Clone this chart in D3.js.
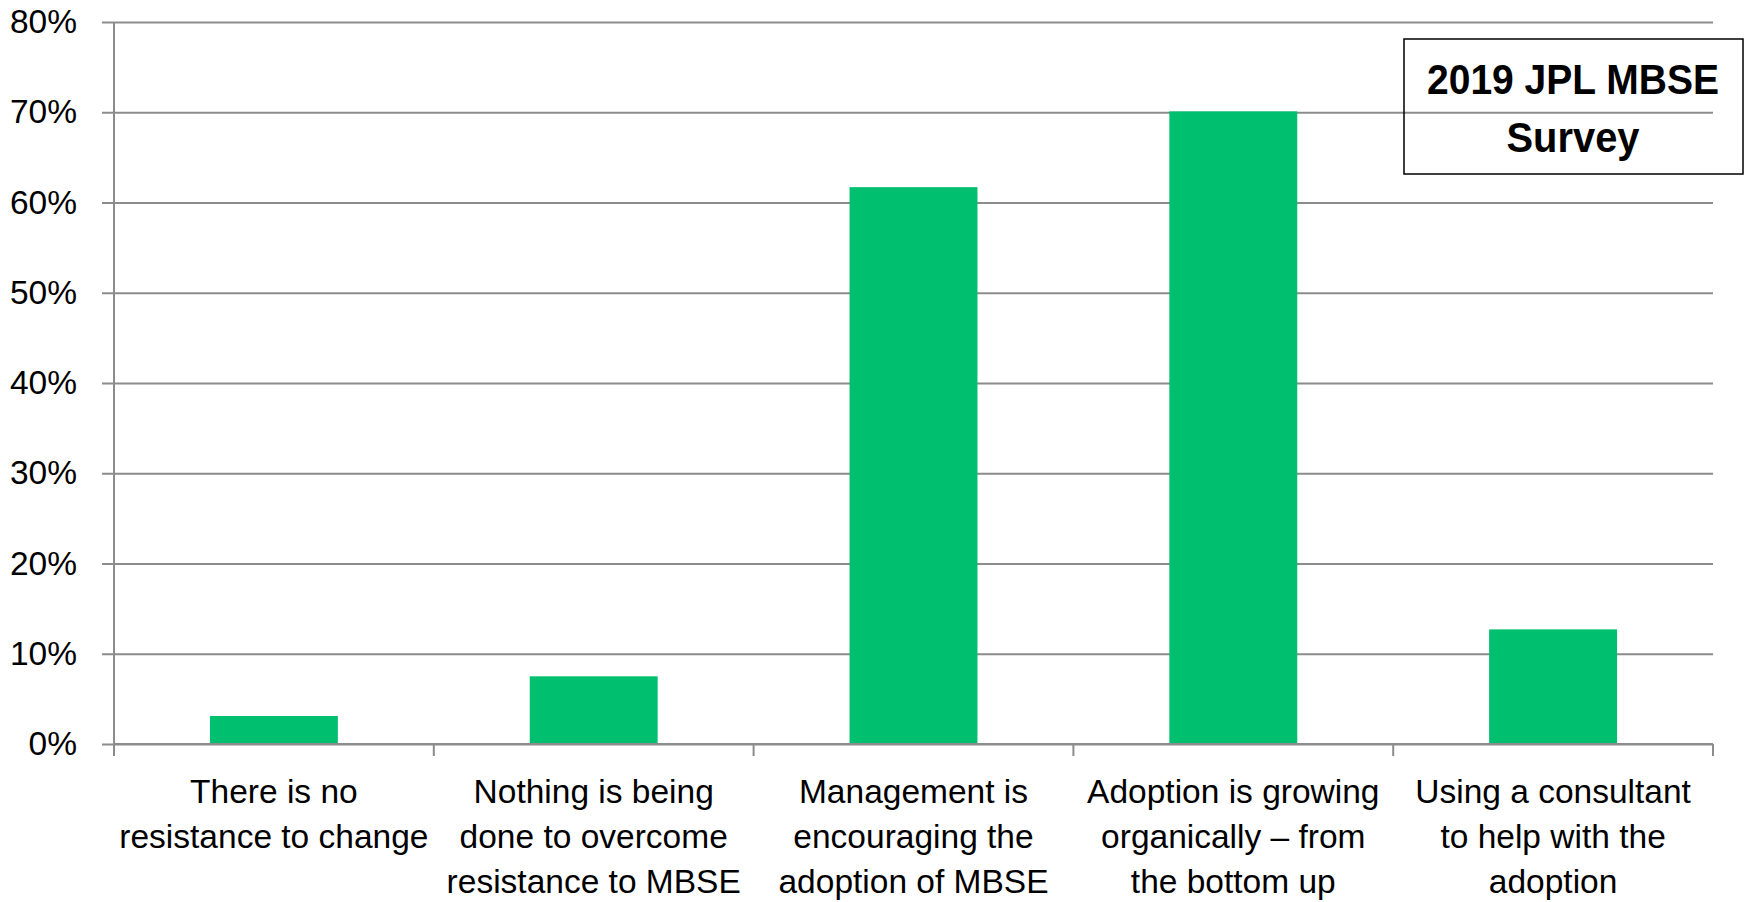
<!DOCTYPE html>
<html>
<head>
<meta charset="utf-8">
<script src="https://cdn.jsdelivr.net/npm/d3@7/dist/d3.min.js"></script>
<style>
  html, body { margin: 0; padding: 0; background: #fff; }
  svg { display: block; }
</style>
</head>
<body>
<svg id="chart" width="1744" height="902"></svg>
<script>
const categories = [
  "There is no resistance to change",
  "Nothing is being done to overcome resistance to MBSE",
  "Management is encouraging the adoption of MBSE",
  "Adoption is growing organically – from the bottom up",
  "Using a consultant to help with the adoption"
];
const categoryLines = [
  ["There is no", "resistance to change"],
  ["Nothing is being", "done to overcome", "resistance to MBSE"],
  ["Management is", "encouraging the", "adoption of MBSE"],
  ["Adoption is growing", "organically – from", "the bottom up"],
  ["Using a consultant", "to help with the", "adoption"]
];
const values = [0.031, 0.075, 0.617, 0.701, 0.127];
const yTicks = [0, 0.1, 0.2, 0.3, 0.4, 0.5, 0.6, 0.7, 0.8];
const legendLines = ["2019 JPL MBSE", "Survey"];

(function () {
const svg = d3.select("#chart");
const font = "'Liberation Sans', Arial, sans-serif";
const gridColor = "#8c8c8c";
const barColor = "#00BF6F";

const mLeft = 114, mRight = 1713, mTop = 22, mBottom = 744;

const y = d3.scaleLinear().domain([0, 0.8]).range([mBottom, mTop]);
const x = d3.scaleBand().domain(categories).range([mLeft, mRight])
  .paddingInner(0.6).paddingOuter(0.3);

// Y axis with gridlines
const yAxis = d3.axisLeft(y)
  .tickValues(yTicks)
  .tickFormat(d3.format(".0%"))
  .tickSize(-(mRight - 102))
  .tickPadding(25);
const gy = svg.append("g").attr("transform", "translate(102,0)").call(yAxis);
gy.select(".domain").remove();
gy.selectAll(".tick line").attr("stroke", gridColor).attr("stroke-width", 2);
gy.selectAll(".tick text")
  .attr("font-family", font).attr("font-size", 33.5).attr("fill", "#000");

// Bars
svg.append("g").selectAll("rect").data(values).join("rect")
  .attr("x", (d, i) => x(categories[i]))
  .attr("y", d => y(d))
  .attr("width", x.bandwidth())
  .attr("height", d => y(0) - y(d))
  .attr("fill", barColor);

// Vertical axis line
svg.append("line")
  .attr("x1", mLeft).attr("x2", mLeft)
  .attr("y1", y(0.8)).attr("y2", mBottom + 12)
  .attr("stroke", gridColor).attr("stroke-width", 2);

// X axis line & boundary ticks
svg.append("line")
  .attr("x1", mLeft).attr("x2", mRight)
  .attr("y1", mBottom).attr("y2", mBottom)
  .attr("stroke", gridColor).attr("stroke-width", 2);
const boundaries = categories.map(c => x(c) - x.step() * x.paddingInner() / 2 + x.step());
svg.append("g").selectAll("line").data(boundaries).join("line")
  .attr("x1", d => d).attr("x2", d => d)
  .attr("y1", mBottom).attr("y2", mBottom + 12)
  .attr("stroke", gridColor).attr("stroke-width", 2);

// Category labels
const labels = svg.append("g").selectAll("text").data(categories).join("text")
  .attr("font-family", font).attr("font-size", 33.5).attr("fill", "#000")
  .attr("text-anchor", "middle")
  .attr("x", c => x(c) + x.bandwidth() / 2)
  .attr("y", mBottom + 59);
labels.each(function(c, i) {
  d3.select(this).selectAll("tspan").data(categoryLines[i]).join("tspan")
    .attr("x", x(c) + x.bandwidth() / 2)
    .attr("dy", (d, j) => j === 0 ? 0 : 45)
    .text(d => d);
});

// Legend box
const lg = svg.append("g");
lg.append("rect")
  .attr("x", 1404).attr("y", 39).attr("width", 339).attr("height", 135)
  .attr("fill", "none").attr("stroke", "#000").attr("stroke-width", 1.5);
const legendWidths = [292, 133];
lg.selectAll("text").data(legendLines).join("text")
  .attr("x", 1573).attr("y", (d, i) => 94 + i * 58)
  .attr("text-anchor", "middle")
  .attr("font-family", font).attr("font-weight", "bold").attr("font-size", 42)
  .attr("textLength", (d, i) => legendWidths[i])
  .attr("lengthAdjust", "spacingAndGlyphs")
  .attr("fill", "#000")
  .text(d => d);
})();
</script>
</body>
</html>
